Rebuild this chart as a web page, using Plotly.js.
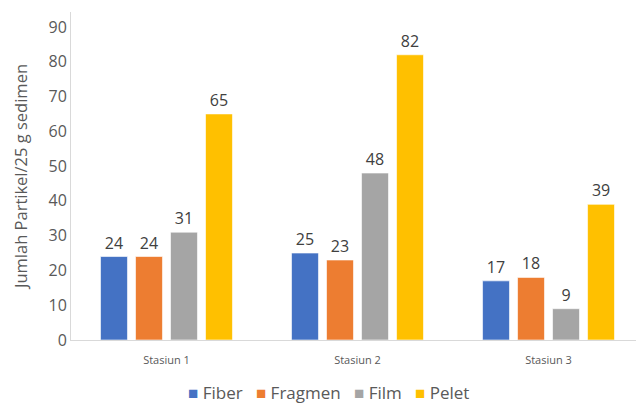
<!DOCTYPE html>
<html>
<head>
<meta charset="utf-8">
<script src="https://cdn.plot.ly/plotly-3.0.1.min.js"></script>
<style>html,body{margin:0;padding:0;background:#fff;}#chart{width:636px;height:405px;}</style>
</head>
<body>
<div id="chart"></div>
<script>
const categories = ["Stasiun 1", "Stasiun 2", "Stasiun 3"];
const seriesNames = ["Fiber", "Fragmen", "Film", "Pelet"];
const fiber = [24, 25, 17];
const fragmen = [24, 23, 18];
const film = [31, 48, 9];
const pelet = [65, 82, 39];
const yTicks = [0, 10, 20, 30, 40, 50, 60, 70, 80, 90];

const colors = ["#4472C4", "#ED7D31", "#A5A5A5", "#FFC000"];
const values = [fiber, fragmen, film, pelet];
const font = "Open Sans, Noto Sans, sans-serif";

const traces = values.map((v, i) => ({
  type: "bar",
  name: seriesNames[i],
  x: categories,
  y: v,
  text: v.map(String),
  textposition: "outside",
  cliponaxis: false,
  textfont: {family: font, size: 16, color: "#404040"},
  marker: {color: colors[i], line: {color: "rgba(255,255,255,0.6)", width: 1}},
  showlegend: false
}));

const legendText = seriesNames.map((n, i) =>
  "<span style='color:" + colors[i] + "'>■</span> " + n).join("   ");

const layout = {
  width: 636, height: 405,
  margin: {l: 71, r: 0, t: 12, b: 65},
  paper_bgcolor: "#fff", plot_bgcolor: "#fff",
  barmode: "group",
  bargap: 0.267,
  bargroupgap: 0.23,
  showlegend: false,
  annotations: [{
    xref: "paper", yref: "paper", x: (328 - 71) / 565, y: -52 / 328,
    xanchor: "center", yanchor: "middle", showarrow: false, borderpad: 0,
    text: legendText, font: {family: font, size: 17, color: "#595959"}
  }],
  xaxis: {
    range: [-0.5, 2.458], showgrid: false, zeroline: false,
    showline: true, linecolor: "#D9D9D9", linewidth: 1,
    ticks: "", ticklabelstandoff: 10,
    tickfont: {family: font, size: 11, color: "#595959"}
  },
  yaxis: {
    range: [0, 94.3], tickvals: yTicks, ticktext: yTicks.map(String),
    showgrid: false, zeroline: false, showline: true, linecolor: "#D9D9D9", linewidth: 1,
    ticks: "", ticklen: 0,
    tickfont: {family: font, size: 16, color: "#595959"},
    title: {text: "Jumlah Partikel/25 g sedimen", font: {family: font, size: 16.5, color: "#595959"}, standoff: 16}
  }
};

Plotly.newPlot("chart", traces, layout, {displayModeBar: false, staticPlot: true});
</script>
</body>
</html>
